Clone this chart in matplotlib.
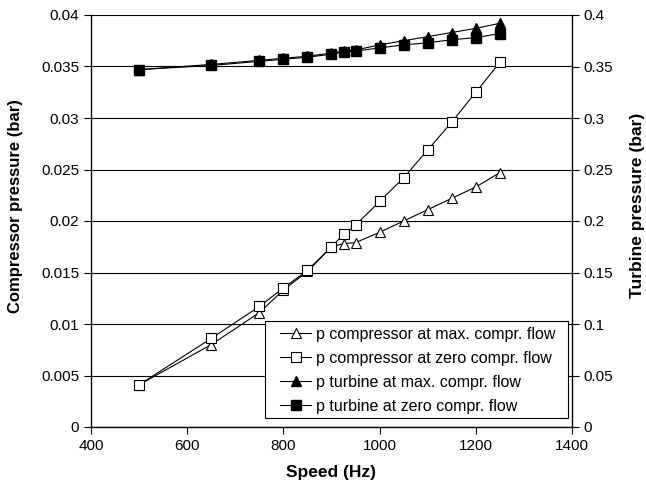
import matplotlib
matplotlib.use("Agg")
import matplotlib.pyplot as plt
from matplotlib.ticker import FuncFormatter
from matplotlib.patches import Rectangle

plt.rcParams['font.family'] = ['Liberation Sans', 'DejaVu Sans']

speed = [500, 650, 750, 800, 850, 900, 925, 950, 1000, 1050, 1100, 1150, 1200, 1250]
comp_max = [0.0041, 0.0080, 0.0111, 0.0133, 0.0151, 0.0175, 0.0178, 0.0179, 0.0189,
            0.0200, 0.0211, 0.0222, 0.0233, 0.0247]
comp_zero = [0.0041, 0.0086, 0.0117, 0.0135, 0.0152, 0.0175, 0.0187, 0.0196, 0.0219,
             0.0242, 0.0269, 0.0296, 0.0325, 0.0354]
turb_max = [0.347, 0.352, 0.356, 0.358, 0.360, 0.363, 0.365, 0.366, 0.371,
            0.375, 0.379, 0.383, 0.387, 0.392]
turb_zero = [0.347, 0.351, 0.355, 0.357, 0.359, 0.362, 0.364, 0.365, 0.368,
             0.371, 0.373, 0.376, 0.378, 0.382]

labels = ["p compressor at max. compr. flow", "p compressor at zero compr. flow",
          "p turbine at max. compr. flow", "p turbine at zero compr. flow"]

fig = plt.figure(figsize=(6.46, 4.88), dpi=100)
L, R, T, B = 91, 572, 15, 427
W, H = R - L, B - T
ax = fig.add_axes([L/646, 1-B/488, W/646, H/488])
ax2 = ax.twinx()

lw = 0.8
h1, = ax.plot(speed, comp_max, color='black', lw=lw, marker='^', ms=7,
              mfc='white', mec='black', mew=0.8, label=labels[0])
h2, = ax.plot(speed, comp_zero, color='black', lw=lw, marker='s', ms=7,
              mfc='white', mec='black', mew=0.8, label=labels[1])
h3, = ax2.plot(speed, turb_max, color='black', lw=lw, marker='^', ms=7,
               mfc='black', mec='black', label=labels[2])
h4, = ax2.plot(speed, turb_zero, color='black', lw=lw, marker='s', ms=6.5,
               mfc='black', mec='black', label=labels[3])

ax.set_xlim(400, 1400)
ax.set_ylim(0, 0.04)
ax2.set_ylim(0, 0.4)
ax.set_xticks([400, 600, 800, 1000, 1200, 1400])
ax.set_yticks([0, 0.005, 0.01, 0.015, 0.02, 0.025, 0.03, 0.035, 0.04])
ax2.set_yticks([0, 0.05, 0.1, 0.15, 0.2, 0.25, 0.3, 0.35, 0.4])
fmt = FuncFormatter(lambda v, p: '{:g}'.format(round(v, 6)))
ax.yaxis.set_major_formatter(fmt)
ax2.yaxis.set_major_formatter(fmt)

ax.grid(axis='y', color='black', lw=0.8)
ax.set_axisbelow(True)
for a in (ax, ax2):
    for s in a.spines.values():
        s.set_visible(False)
ax.spines['left'].set_visible(True)
ax.spines['bottom'].set_visible(True)
ax2.spines['right'].set_visible(True)
for s in ('left', 'bottom'):
    ax.spines[s].set_linewidth(1.0)
ax2.spines['right'].set_linewidth(1.0)

ax.tick_params(axis='both', direction='out', length=5, width=0.8, labelsize=11)
ax2.tick_params(axis='y', direction='out', length=5, width=0.8, labelsize=11)

ax.set_xlabel('Speed (Hz)', fontsize=12.5, fontweight='bold', labelpad=9)
ax.set_ylabel('Compressor pressure (bar)', fontsize=12, fontweight='bold')
ax2.set_ylabel('Turbine pressure (bar)', fontsize=12.5, fontweight='bold')
ax.yaxis.set_label_coords((23 - L) / W, (B - 206) / H)
ax2.yaxis.set_label_coords((630 - L) / W, (B - 205) / H)

# legend frame
ax2.add_patch(Rectangle(((265 - L) / W, (B - 418) / H), (568 - 265) / W, (418 - 320.7) / H,
                        transform=ax2.transAxes, facecolor='white', edgecolor='black',
                        lw=0.8, zorder=4.5, clip_on=False))
leg = ax2.legend(handles=[h1, h2, h3, h4], loc='lower right',
                 bbox_to_anchor=((555 - L) / W, (B - 413.5) / H),
                 borderaxespad=0, fontsize=11.5, frameon=False, handlelength=1.9,
                 handletextpad=0.3, borderpad=0, labelspacing=0.56)
leg.set_zorder(5)

fig.savefig('out.png', dpi=100)
